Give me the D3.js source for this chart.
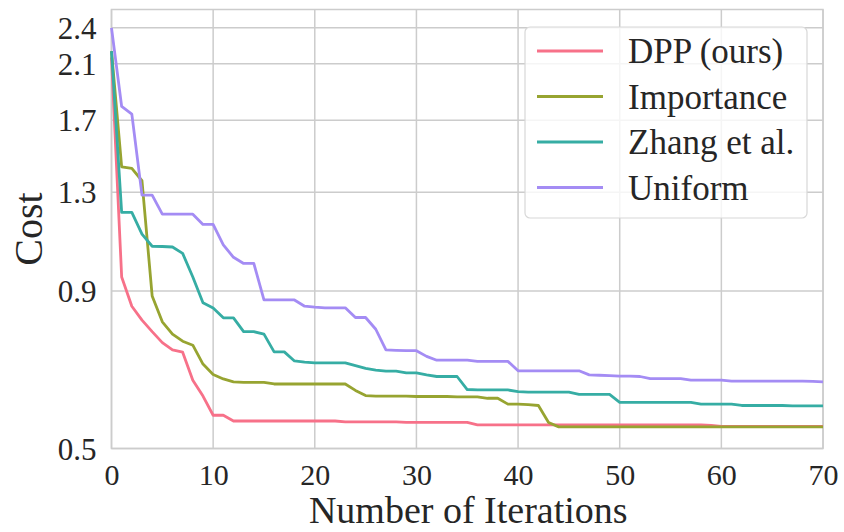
<!DOCTYPE html>
<html>
<head>
<meta charset="utf-8">
<script src="https://cdn.jsdelivr.net/npm/d3@7"></script>
<style>
  html, body { margin: 0; padding: 0; background: #fff; }
</style>
</head>
<body>
<div id="chart"></div>
<script>
const iterations = d3.range(0, 71);

const dpp = [2.15, 0.948, 0.85, 0.807, 0.773, 0.742, 0.722, 0.716, 0.645, 0.608,
  0.566, 0.566, 0.554, 0.554, 0.554, 0.554, 0.554, 0.554, 0.554, 0.554,
  0.554, 0.554, 0.554, 0.552, 0.552, 0.552, 0.552, 0.552, 0.552, 0.551,
  0.551, 0.551, 0.551, 0.551, 0.551, 0.551, 0.546, 0.546, 0.546, 0.546,
  0.546, 0.546, 0.546, 0.546, 0.546, 0.546, 0.546, 0.546, 0.546, 0.546,
  0.546, 0.546, 0.546, 0.546, 0.546, 0.546, 0.546, 0.546, 0.546, 0.545,
  0.543, 0.543, 0.543, 0.543, 0.543, 0.543, 0.543, 0.543, 0.543, 0.543, 0.543];

const importance = [2.2, 1.429, 1.421, 1.357, 0.883, 0.802, 0.766, 0.746, 0.735, 0.685,
  0.659, 0.648, 0.641, 0.640, 0.640, 0.640, 0.636, 0.636, 0.636, 0.636,
  0.636, 0.636, 0.636, 0.636, 0.621, 0.609, 0.608, 0.608, 0.608, 0.608,
  0.607, 0.607, 0.607, 0.607, 0.606, 0.606, 0.606, 0.603, 0.603, 0.590,
  0.590, 0.589, 0.587, 0.551, 0.542, 0.542, 0.542, 0.542, 0.542, 0.542,
  0.542, 0.542, 0.542, 0.542, 0.542, 0.542, 0.542, 0.542, 0.542, 0.542,
  0.542, 0.542, 0.542, 0.542, 0.542, 0.542, 0.542, 0.542, 0.542, 0.542, 0.542];

const zhang = [2.2, 1.206, 1.206, 1.112, 1.063, 1.062, 1.06, 1.035, 0.948, 0.861,
  0.844, 0.814, 0.814, 0.773, 0.773, 0.766, 0.717, 0.717, 0.693, 0.690,
  0.688, 0.688, 0.688, 0.688, 0.681, 0.674, 0.670, 0.667, 0.667, 0.663,
  0.663, 0.658, 0.654, 0.654, 0.654, 0.623, 0.622, 0.622, 0.622, 0.622,
  0.618, 0.617, 0.617, 0.617, 0.617, 0.617, 0.612, 0.612, 0.612, 0.612,
  0.594, 0.594, 0.594, 0.594, 0.594, 0.594, 0.594, 0.594, 0.590, 0.590,
  0.590, 0.590, 0.587, 0.587, 0.587, 0.587, 0.587, 0.586, 0.586, 0.586, 0.586];

const uniform = [2.4, 1.79, 1.74, 1.286, 1.286, 1.198, 1.198, 1.198, 1.198, 1.153,
  1.153, 1.068, 1.02, 0.997, 0.997, 0.870, 0.870, 0.870, 0.870, 0.850,
  0.847, 0.845, 0.845, 0.845, 0.815, 0.815, 0.780, 0.722, 0.721, 0.720,
  0.720, 0.705, 0.695, 0.695, 0.695, 0.695, 0.692, 0.692, 0.692, 0.692,
  0.668, 0.668, 0.668, 0.668, 0.668, 0.668, 0.668, 0.658, 0.657, 0.656,
  0.655, 0.655, 0.654, 0.649, 0.649, 0.649, 0.649, 0.645, 0.645, 0.645,
  0.645, 0.643, 0.643, 0.643, 0.643, 0.643, 0.643, 0.643, 0.643, 0.642, 0.641];

const seriesNames = ['DPP (ours)', 'Importance', 'Zhang et al.', 'Uniform'];
const seriesValues = [dpp, importance, zhang, uniform];
const seriesColours = ['#f77189', '#97a431', '#36ada4', '#a48cf4'];

const xTicks = [0, 10, 20, 30, 40, 50, 60, 70];
const yTicks = [0.5, 0.9, 1.3, 1.7, 2.1, 2.4];

const width = 844;
const height = 532;
const gridColour = '#cccccc';
const textColour = '#262626';
const serif = '"Liberation Serif"';
const margin = { top: 9.5, right: 21, bottom: 83.5, left: 111.5 };

const svg = d3.select('#chart').append('svg')
  .attr('width', width)
  .attr('height', height);

const x = d3.scaleLinear()
  .domain([0, 70])
  .range([margin.left, width - margin.right]);

const y = d3.scaleLog()
  .domain([0.5, 2.57])
  .range([height - margin.bottom, margin.top]);

// grid
svg.append('g')
  .selectAll('line')
  .data(xTicks)
  .enter()
  .append('line')
  .attr('x1', d => x(d)).attr('x2', d => x(d))
  .attr('y1', y.range()[0]).attr('y2', y.range()[1])
  .attr('stroke', gridColour)
  .attr('stroke-width', 1.5);

svg.append('g')
  .selectAll('line')
  .data(yTicks)
  .enter()
  .append('line')
  .attr('x1', x.range()[0]).attr('x2', x.range()[1])
  .attr('y1', d => y(d)).attr('y2', d => y(d))
  .attr('stroke', gridColour)
  .attr('stroke-width', 1.5);

// frame
svg.append('rect')
  .attr('x', x.range()[0])
  .attr('y', y.range()[1])
  .attr('width', x.range()[1] - x.range()[0])
  .attr('height', y.range()[0] - y.range()[1])
  .attr('fill', 'none')
  .attr('stroke', gridColour)
  .attr('stroke-width', 1.5);

// axes (tick labels only, no tick marks)
const xAxis = svg.append('g')
  .attr('transform', `translate(0,${y.range()[0]})`)
  .call(d3.axisBottom(x).tickValues(xTicks).tickSize(0).tickPadding(0));
xAxis.attr('font-family', null).attr('font-size', null);
xAxis.select('.domain').remove();
xAxis.selectAll('text')
  .attr('y', 36)
  .attr('dy', null)
  .attr('font-family', serif)
  .attr('font-size', 30)
  .attr('fill', textColour);

const yAxis = svg.append('g')
  .attr('transform', `translate(${x.range()[0]},0)`)
  .call(d3.axisLeft(y).tickValues(yTicks).tickFormat(d3.format('.1f')).tickSize(0).tickPadding(15));
yAxis.attr('font-family', null).attr('font-size', null);
yAxis.select('.domain').remove();
yAxis.selectAll('text')
  .attr('dy', '0.34em')
  .attr('font-family', serif)
  .attr('font-size', 31)
  .attr('fill', textColour);

// labels
svg.append('text')
  .attr('x', (x.range()[0] + x.range()[1]) / 2 + 1)
  .attr('y', 523)
  .attr('text-anchor', 'middle')
  .attr('font-family', serif)
  .attr('font-size', 38)
  .attr('fill', textColour)
  .text('Number of Iterations');

svg.append('text')
  .attr('transform', `translate(42,${(y.range()[0] + y.range()[1]) / 2}) rotate(-90)`)
  .attr('text-anchor', 'middle')
  .attr('font-family', serif)
  .attr('font-size', 40)
  .attr('fill', textColour)
  .text('Cost');

// series
const line = d3.line()
  .x((d, i) => x(iterations[i]))
  .y(d => y(d));

svg.append('g')
  .selectAll('path')
  .data(seriesValues)
  .enter()
  .append('path')
  .attr('d', line)
  .attr('fill', 'none')
  .attr('stroke', (d, i) => seriesColours[i])
  .attr('stroke-width', 2.8)
  .attr('stroke-linejoin', 'round');

// legend
const legend = svg.append('g').attr('transform', 'translate(525,27)');
legend.append('rect')
  .attr('width', 282)
  .attr('height', 191)
  .attr('rx', 5)
  .attr('fill', '#fff')
  .attr('fill-opacity', 0.8)
  .attr('stroke', '#d8d8d8')
  .attr('stroke-width', 1.2);

const rows = legend.selectAll('g.row')
  .data(seriesNames)
  .enter()
  .append('g')
  .attr('class', 'row')
  .attr('transform', (d, i) => `translate(0,${24 + i * 45.5})`);

rows.append('line')
  .attr('x1', 12).attr('x2', 78)
  .attr('stroke', (d, i) => seriesColours[i])
  .attr('stroke-width', 2.8);

rows.append('text')
  .attr('x', 103)
  .attr('dy', '0.35em')
  .attr('font-family', serif)
  .attr('font-size', 35)
  .attr('fill', textColour)
  .text(d => d);
</script>
</body>
</html>
